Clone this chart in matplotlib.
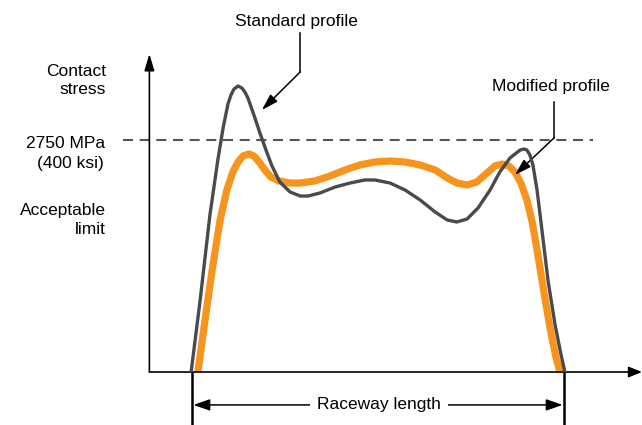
import matplotlib.pyplot as plt

plt.rcParams['font.family'] = ['Liberation Sans', 'DejaVu Sans']

# Position along the raceway (% of raceway length) and contact stress (MPa)
std_pos = [0.3, 2.7, 5.3, 7.4, 8.8, 10.1, 10.9, 11.7, 12.8, 13.8, 14.6, 15.4, 17.0,
           18.6, 20.2, 21.8, 23.9, 26.6, 29.3, 31.4, 34.6, 38.6, 42.6, 46.5, 49.2,
           53.2, 57.2, 61.2, 65.2, 68.4, 71.0, 73.7, 76.6, 79.8, 82.4, 85.1, 87.8,
           88.8, 89.6, 90.4, 91.2, 92.3, 93.6, 95.2, 97.1, 98.7, 99.7]
std_stress = [0, 853, 1861, 2513, 2892, 3177, 3283, 3354, 3390, 3366, 3319, 3248, 3046,
              2833, 2631, 2442, 2252, 2134, 2086, 2086, 2122, 2193, 2240, 2276, 2276,
              2240, 2157, 2039, 1896, 1802, 1778, 1814, 1944, 2157, 2371, 2537, 2631,
              2643, 2631, 2572, 2454, 2157, 1683, 1090, 557, 201, 0]

mod_pos = [2.1, 4.0, 5.9, 8.0, 9.8, 11.4, 12.8, 14.1, 15.7, 17.0, 18.4, 19.9, 21.5,
           23.7, 26.6, 29.3, 33.2, 37.2, 41.2, 45.2, 49.2, 53.2, 57.2, 61.2, 65.2,
           68.4, 71.0, 73.7, 76.3, 79.0, 81.1, 83.0, 84.8, 86.4, 88.0, 89.6, 91.0,
           92.3, 93.9, 95.7, 97.3, 98.4]
mod_stress = [0, 616, 1209, 1802, 2157, 2371, 2489, 2560, 2584, 2560, 2489, 2394, 2311,
              2264, 2240, 2240, 2264, 2323, 2394, 2454, 2489, 2501, 2489, 2454, 2394,
              2300, 2240, 2217, 2252, 2359, 2442, 2465, 2442, 2371, 2240, 2039, 1778,
              1446, 1008, 533, 178, 0]

limit_mpa = 2750
raceway = [0.5, 99.5]

fig = plt.figure(figsize=(6.42, 4.25), dpi=100)
ax = fig.add_axes([0, 0, 1, 1])
ax.set_xlim(-50.53, 120.21)
ax.set_ylim(-628, 4409)
ax.axis('off')

grey = '#4a4a4a'
orange = '#f7941d'
fs = 12.5


def arrow(tip, tail, style, lw=1.1):
    ax.annotate('', xy=tip, xytext=tail,
                arrowprops=dict(arrowstyle=style, lw=lw, color='black',
                                mutation_scale=25, shrinkA=0, shrinkB=0))


# profiles
ax.plot(mod_pos, mod_stress, color=orange, lw=5.2, solid_capstyle='butt',
        solid_joinstyle='round', zorder=3)
ax.plot(std_pos, std_stress, color=grey, lw=2.4, solid_capstyle='butt',
        solid_joinstyle='round', zorder=4)

# acceptable limit
ax.plot([-17.8, 107.2], [limit_mpa, limit_mpa], color='#555555', lw=1.5,
        dashes=(4.8, 3.2), zorder=2)

# axes with arrowheads
arrow((120.2, 0), (-10.8, 0), '-|>,head_length=0.32,head_width=0.13', lw=1.2)
arrow((-10.8, 3770), (-10.8, 0), '-|>,head_length=0.4,head_width=0.12', lw=1.2)

# raceway length dimension
for xr in raceway:
    ax.plot([xr, xr], [0, -700], color='black', lw=1.8, solid_capstyle='butt')
arrow((raceway[0] + 0.4, -390), (raceway[1] - 0.4, -390),
      '<|-|>,head_length=0.4,head_width=0.14')
ax.text(50.3, -390, 'Raceway length', fontsize=fs, ha='center', va='center',
        bbox=dict(facecolor='white', edgecolor='none', pad=5))

# left labels
ax.text(-22.3, 3455, 'Contact\nstress', fontsize=fs, ha='right', va='center',
        linespacing=1.3)
ax.text(-22.5, 2714, '2750 MPa', fontsize=fs, ha='right', va='center')
ax.text(-23.0, 2477, '(400 ksi)', fontsize=fs, ha='right', va='center')
ax.text(-22.3, 1802, 'Acceptable\nlimit', fontsize=fs, ha='right', va='center',
        linespacing=1.3)

# callouts
ax.text(28.2, 4160, 'Standard profile', fontsize=fs, ha='center', va='center')
ax.plot([29.3, 29.3], [4018, 3556], color='black', lw=1.1)
arrow((19.1, 3105), (29.3, 3556), '-|>,head_length=0.4,head_width=0.12')

ax.text(96.0, 3384, 'Modified profile', fontsize=fs, ha='center', va='center')
ax.plot([96.8, 96.8], [3200, 2774], color='black', lw=1.1)
arrow((86.4, 2335), (96.8, 2774), '-|>,head_length=0.4,head_width=0.12')

fig.savefig('out.png', dpi=100, facecolor='white')
